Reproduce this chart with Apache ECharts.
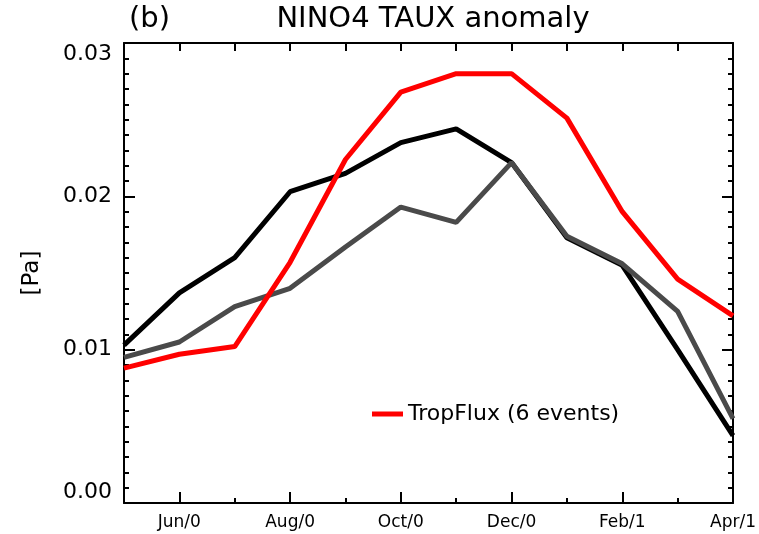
<!DOCTYPE html>
<html>
<head>
<meta charset="utf-8">
<script src="https://cdn.jsdelivr.net/npm/echarts@6/dist/echarts.min.js"></script>
<style>
html,body{margin:0;padding:0;background:#fff;}
#c{width:759px;height:534px;}
</style>
</head>
<body>
<div id="c"></div>
<script>
var months = ['May/0','Jun/0','Jul/0','Aug/0','Sep/0','Oct/0','Nov/0','Dec/0','Jan/1','Feb/1','Mar/1','Apr/1'];
var blackVals = [0.0103,0.0137,0.0160,0.0203,0.0215,0.0235,0.0244,0.0222,0.0173,0.0155,0.0100,0.0044];
var grayVals  = [0.0095,0.0105,0.0128,0.0140,0.0167,0.0193,0.0183,0.0222,0.0174,0.0156,0.0125,0.0055];
var redVals   = [0.0088,0.0097,0.0102,0.0157,0.0224,0.0268,0.0280,0.0280,0.0251,0.0190,0.0146,0.0122];
var yTicks = [0.00,0.01,0.02,0.03];
var redName = 'TropFlux (6 events)';

var FONT = 'DejaVu Sans';
var chart = echarts.init(document.getElementById('c'), null, {renderer:'canvas'});
function odd(i){return i % 2 === 1;}
var grid = {left:124, right:26, top:43, bottom:31};
var lineStyleAxis = {color:'#000', width:2};
chart.setOption({
  animation:false,
  backgroundColor:'#fff',
  textStyle:{fontFamily:FONT},
  title:[
    {text:'NINO4 TAUX anomaly', left:428, top:0, textAlign:'center',
     textStyle:{fontFamily:FONT, fontWeight:'normal', fontSize:29, color:'#000'}},
    {text:'(b)', left:124, top:0,
     textStyle:{fontFamily:FONT, fontWeight:'normal', fontSize:29, color:'#000'}}
  ],
  legend:{
    data:[redName], left:367, top:398, icon:'rect', itemWidth:31, itemHeight:5, itemGap:10,
    textStyle:{fontFamily:FONT, fontSize:22, color:'#000'}
  },
  grid:grid,
  xAxis:[
    {type:'category', data:months, boundaryGap:false, position:'bottom',
     axisLine:{show:true, lineStyle:lineStyleAxis},
     axisTick:{show:true, inside:true, length:11, interval:function(i){return odd(i);}, lineStyle:{color:'#000',width:2}},
     axisLabel:{interval:function(i){return odd(i);}, margin:11, fontSize:17, color:'#000', fontFamily:FONT},
     splitLine:{show:false}},
    {type:'category', data:months, boundaryGap:false, position:'bottom',
     axisLine:{show:false},
     axisTick:{show:true, inside:true, length:5, interval:0, lineStyle:{color:'#000',width:2}},
     axisLabel:{show:false}, splitLine:{show:false}},
    {type:'category', data:months, boundaryGap:false, position:'top',
     axisLine:{show:true, lineStyle:lineStyleAxis},
     axisTick:{show:true, inside:true, length:8, interval:0, lineStyle:{color:'#000',width:2}},
     axisLabel:{show:false}, splitLine:{show:false}}
  ],
  yAxis:[
    {type:'value', min:yTicks[0], max:yTicks[yTicks.length-1], interval:0.01, position:'left',
     name:'[Pa]', nameLocation:'middle', nameGap:80, nameRotate:90,
     nameTextStyle:{fontFamily:FONT, fontSize:23, color:'#000'},
     axisLine:{show:true, lineStyle:lineStyleAxis},
     axisTick:{show:true, inside:true, length:11, lineStyle:{color:'#000',width:2}},
     minorTick:{show:true, splitNumber:10, length:5, lineStyle:{color:'#000',width:2}},
     axisLabel:{margin:12, fontSize:22, color:'#000', fontFamily:FONT,
       formatter:function(v){return v.toFixed(2);},
       verticalAlignMinLabel:'bottom', verticalAlignMaxLabel:'top'},
     splitLine:{show:false}, minorSplitLine:{show:false}},
    {type:'value', min:yTicks[0], max:yTicks[yTicks.length-1], interval:0.01, position:'right',
     axisLine:{show:true, lineStyle:lineStyleAxis},
     axisTick:{show:true, inside:true, length:11, lineStyle:{color:'#000',width:2}},
     minorTick:{show:true, splitNumber:10, length:5, lineStyle:{color:'#000',width:2}},
     axisLabel:{show:false}, splitLine:{show:false}, minorSplitLine:{show:false}}
  ],
  series:[
    {name:'black', type:'line', data:blackVals, xAxisIndex:0, yAxisIndex:0, showSymbol:false, symbol:'none',
     lineStyle:{color:'#000000', width:5}, itemStyle:{color:'#000000'}, z:2},
    {name:'gray', type:'line', data:grayVals, xAxisIndex:0, yAxisIndex:0, showSymbol:false, symbol:'none',
     lineStyle:{color:'#4a4a4a', width:5}, itemStyle:{color:'#4a4a4a'}, z:3},
    {name:redName, type:'line', data:redVals, xAxisIndex:0, yAxisIndex:0, showSymbol:false, symbol:'none',
     lineStyle:{color:'#ff0000', width:5}, itemStyle:{color:'#ff0000'}, z:4}
  ]
});
</script>
</body>
</html>
